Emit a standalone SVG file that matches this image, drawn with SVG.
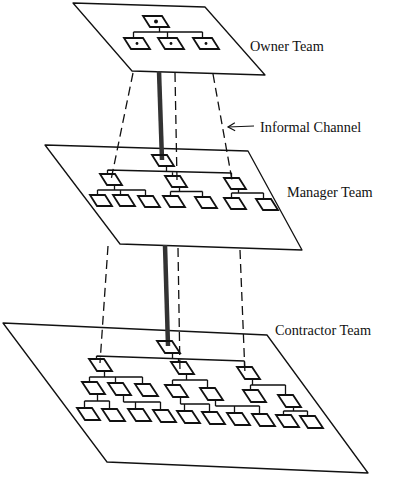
<svg xmlns="http://www.w3.org/2000/svg" width="400" height="482" viewBox="0 0 400 482">
<style>
.plane{fill:none;stroke:#111;stroke-width:1.3;stroke-linejoin:round}
.node{fill:none;stroke:#111;stroke-width:1.8;stroke-linejoin:miter}
.tree{fill:none;stroke:#111;stroke-width:1.3}
.dash{fill:none;stroke:#111;stroke-width:1.3;stroke-dasharray:9 5}
.thick{fill:none;stroke:#333;stroke-width:4.5}
.lbl{font-family:"Liberation Serif","Times New Roman",serif;font-size:14.3px;fill:#111}
.dot{fill:#111}
</style>
<defs>
<path id="on" d="M0,0 h19 l7,11 h-19 z"/>
<path id="n" d="M0,0 h15 l7,11 h-15 z"/>
<path id="cn" d="M0,0 h15 l8,12 h-15 z"/>
<marker id="ah" markerWidth="10" markerHeight="10" refX="8" refY="5" orient="auto" markerUnits="userSpaceOnUse">
<path d="M1,1 L8,5 L1,9" fill="none" stroke="#111" stroke-width="1.2"/>
</marker>
</defs>

<g id="planes">
<polygon id="owner-plane" class="plane" points="73,3 205,7 265,75 132,71"/>
<polygon id="manager-plane" class="plane" points="45,145 248,151 302,250 120,244"/>
<polygon id="contractor-plane" class="plane" points="3,323 267,335 368,473 107,462"/>
</g>

<g id="connectors">
<!-- owner tree -->
<path class="tree" d="M159.5,27 V32 M133.5,32 H202.5 M133.5,32 V38 M167.5,32 V38 M202.5,32 V38"/>
<!-- manager tree -->
<path class="tree" d="M166.5,166 V171 M107.5,170 L231.5,173 M107.5,170 V174 M172.5,171.6 V176 M231.5,173 V178"/>
<path class="tree" d="M114.5,185 V190 M97.5,190 H145.5 M97.5,190 V195 M120.5,190 V195 M145.5,190 V196"/>
<path class="tree" d="M179.5,187 V191.5 M170.5,191.5 H202.5 M170.5,191.5 V196 M202.5,191.5 V197"/>
<path class="tree" d="M238.5,189 V193 M231.5,193 H263.5 M231.5,193 V198 M263.5,193 V199"/>
<!-- contractor tree -->
<path class="tree" d="M172.5,353 V358.5 M96.5,356 L244.5,361 M96.5,356 V359 M178.5,358.7 V362 M244.5,361 V367"/>
<path class="tree" d="M104.5,371 V377 M89.5,377 H142.5 M89.5,377 V382 M115.5,377 V383 M142.5,377 V384"/>
<path class="tree" d="M186.5,374 V380 M172.5,380 H207.5 M172.5,380 V385 M207.5,380 V388"/>
<path class="tree" d="M252.5,379 V385 M250.5,385 H285.5 M250.5,385 V390 M285.5,385 V395"/>
<path class="tree" d="M97.5,394 V401 M84.5,401 H109.5 M84.5,401 V408 M109.5,401 V409"/>
<path class="tree" d="M123.5,395 V402 M123.5,402 H160.5 M135.5,402 V409 M160.5,402 V410"/>
<path class="tree" d="M180.5,397 V404 M180.5,404 H209.5 M184.5,404 V411 M209.5,404 V412"/>
<path class="tree" d="M215.5,400 V406 M215.5,406 H259.5 M234.5,406 V413 M259.5,406 V414"/>
<path class="tree" d="M293.5,407 V411 M283.5,411 H307.5 M283.5,411 V415 M307.5,411 V416"/>
<!-- formal channels -->
<line class="thick" x1="159" y1="71" x2="162" y2="160"/>
<line class="thick" x1="165" y1="245" x2="168" y2="346"/>
<!-- informal channels -->
<line class="dash" x1="133" y1="73" x2="111" y2="180"/>
<line class="dash" x1="175" y1="73" x2="177" y2="180"/>
<line class="dash" x1="213" y1="74" x2="232" y2="180"/>
<line class="dash" x1="108" y1="246" x2="100" y2="363"/>
<line class="dash" x1="178" y1="248" x2="180" y2="372"/>
<line class="dash" x1="240" y1="250" x2="245" y2="374"/>
<!-- label arrow -->
<line x1="254" y1="126" x2="228" y2="127" stroke="#111" stroke-width="1.2" marker-end="url(#ah)"/>
</g>

<g id="owner-nodes">
<g id="o0"><use href="#on" class="node" x="143" y="16"/><circle class="dot" cx="156" cy="21.5" r="2"/></g>
<g id="o1"><use href="#on" class="node" x="124" y="38"/><circle class="dot" cx="137" cy="43.5" r="1.4"/></g>
<g id="o2"><use href="#on" class="node" x="158" y="38"/><circle class="dot" cx="171" cy="43.5" r="1.4"/></g>
<g id="o3"><use href="#on" class="node" x="193" y="38"/><circle class="dot" cx="206" cy="43.5" r="1.4"/></g>
</g>

<g id="manager-nodes">
<g id="m0"><use href="#n" class="node" x="152" y="155"/></g>
<g id="m1"><use href="#n" class="node" x="100" y="174"/></g>
<g id="m2"><use href="#n" class="node" x="165" y="176"/></g>
<g id="m3"><use href="#n" class="node" x="224" y="178"/></g>
<g id="m4"><use href="#n" class="node" x="90" y="195"/></g>
<g id="m5"><use href="#n" class="node" x="113" y="195"/></g>
<g id="m6"><use href="#n" class="node" x="138" y="196"/></g>
<g id="m7"><use href="#n" class="node" x="163" y="196"/></g>
<g id="m8"><use href="#n" class="node" x="195" y="197"/></g>
<g id="m9"><use href="#n" class="node" x="224" y="198"/></g>
<g id="m10"><use href="#n" class="node" x="256" y="199"/></g>
</g>

<g id="contractor-nodes">
<g id="c0"><use href="#cn" class="node" x="157" y="341"/></g>
<g id="c1"><use href="#cn" class="node" x="89" y="359"/></g>
<g id="c2"><use href="#cn" class="node" x="171" y="362"/></g>
<g id="c3"><use href="#cn" class="node" x="237" y="367"/></g>
<g id="c4"><use href="#cn" class="node" x="82" y="382"/></g>
<g id="c5"><use href="#cn" class="node" x="108" y="383"/></g>
<g id="c6"><use href="#cn" class="node" x="135" y="384"/></g>
<g id="c7"><use href="#cn" class="node" x="165" y="385"/></g>
<g id="c8"><use href="#cn" class="node" x="200" y="388"/></g>
<g id="c9"><use href="#cn" class="node" x="243" y="390"/></g>
<g id="c10"><use href="#cn" class="node" x="278" y="395"/></g>
<g id="c11"><use href="#cn" class="node" x="77" y="408"/></g>
<g id="c12"><use href="#cn" class="node" x="102" y="409"/></g>
<g id="c13"><use href="#cn" class="node" x="128" y="409"/></g>
<g id="c14"><use href="#cn" class="node" x="153" y="410"/></g>
<g id="c15"><use href="#cn" class="node" x="177" y="411"/></g>
<g id="c16"><use href="#cn" class="node" x="202" y="412"/></g>
<g id="c17"><use href="#cn" class="node" x="227" y="413"/></g>
<g id="c18"><use href="#cn" class="node" x="252" y="414"/></g>
<g id="c19"><use href="#cn" class="node" x="276" y="415"/></g>
<g id="c20"><use href="#cn" class="node" x="300" y="416"/></g>
</g>

<g id="labels">
<text class="lbl" x="250" y="51">Owner Team</text>
<text class="lbl" x="260" y="132">Informal Channel</text>
<text class="lbl" x="287" y="197">Manager Team</text>
<text class="lbl" x="275" y="335">Contractor Team</text>
</g>
</svg>
